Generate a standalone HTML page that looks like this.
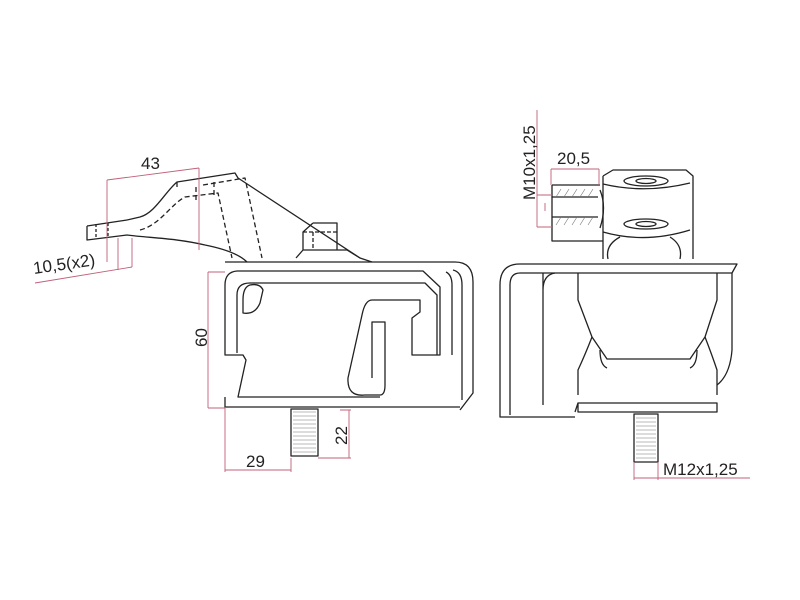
<!DOCTYPE html>
<html><head><style>body{margin:0;background:#fff}svg{display:block}</style></head><body>
<svg width="800" height="600" viewBox="0 0 800 600" xmlns="http://www.w3.org/2000/svg" font-family="Liberation Sans, sans-serif">
<g fill="none" stroke="#222" stroke-width="1.3" stroke-linejoin="round">
<!-- LEFT VIEW bracket -->
<path d="M127,220 L140,217 C155,213 165,192 177,182 L235,173 L238,178 L360,258 L372,262"/>
<path d="M87,226 L127,220 M87,226 L87,240 L127,235 C150,238 175,238 205,245 C225,249 240,255 247,262"/>
<path d="M177,182 L177,187" />
<path d="M96,224 V238 M108,223 V237" stroke-dasharray="3,2"/>
<path d="M140,230 C160,225 170,205 185,197 L218,193 L232,258 M203,185 L245,178 L262,258 M196,187 V200 M214,182 V195" stroke-dasharray="5,3"/>
<!-- nut -->
<path d="M313,223 H337 V250 M303,250 V232 L313,223 M296,258 L303,250 H347 L360,258" />
<path d="M303,232 H337 M313,232 V250" stroke-dasharray="4,2"/>
<!-- body -->
<path d="M225,262 H455 Q473,262 473,282 V393 L460,410"/>
<path d="M237,271 H423 L440,287 V355 H412 V318 L420,312 V300 H372 Q365,300 362,315 L348,378 Q347,397 365,395 H380 Q385,395 385,385 V322 H372 V378"/>
<path d="M237,271 Q225,272 225,285 V355 H243 L246,360 L238,397 H380"/>
<path d="M237,353 V295 Q237,283 250,283 H425 L437,295 V355"/>
<path d="M263,290 Q260,283 250,285 Q243,287 243,300 V313 Q255,315 260,303 Z"/>
<path d="M225,397 V407 H460"/>
<path d="M453,270 Q462,272 462,285 V400 M446,272 Q452,275 452,285 V355"/>
<!-- stud -->
<rect x="291" y="409" width="27" height="47"/>
<!-- RIGHT VIEW head -->
<path d="M603,176 L613,170 H686 L693,176 V259 M603,176 V259"/>
<path d="M552,185 H600 M552,185 V241 H603"/>
<path d="M603,184 Q645,194 690,183 M603,232 Q645,244 690,230"/>
<ellipse cx="646" cy="181" rx="22" ry="5"/><ellipse cx="646" cy="181" rx="10" ry="2.5"/>
<ellipse cx="646" cy="224" rx="22" ry="5"/><ellipse cx="646" cy="224" rx="10" ry="2.5"/>
<path d="M552,197 H598 M552,217 H598 M600,190 Q607,207 600,228"/>
<path d="M608,259 Q605,245 620,237 M680,259 Q683,245 670,237"/>
<!-- right body -->
<path d="M520,264 H737 L732,273 H520 Q510,273 510,285 V415 M520,264 Q500,264 500,285 V417 H575"/>
<path d="M543,273 V405 M555,273 Q543,275 543,290"/>
<path d="M578,273 V300 L592,337 L607,359 H690 L705,337 L717,300 V273"/>
<path d="M592,337 Q585,355 578,370 V395 M705,337 Q712,355 717,370 V395 M600,350 Q600,365 607,368 M697,350 Q697,365 690,368"/>
<path d="M732,273 V350 Q730,375 717,385"/>
<path d="M578,403 H717 V412 H578 Z M575,412 L578,403"/>
<rect x="634" y="414" width="24" height="48"/>
</g>
<g stroke="#777" stroke-width="0.6">
<path d="M293,412 h23 M293,416 h23 M293,420 h23 M293,424 h23 M293,428 h23 M293,432 h23 M293,436 h23 M293,440 h23 M293,444 h23 M293,448 h23 M293,452 h23"/>
<path d="M636,418 h20 M636,422 h20 M636,426 h20 M636,430 h20 M636,434 h20 M636,438 h20 M636,442 h20 M636,446 h20 M636,450 h20 M636,454 h20 M636,458 h20"/>
<path d="M556,197 l5,-8 M564,197 l5,-8 M572,197 l5,-8 M580,197 l5,-8 M588,197 l5,-8 M556,225 l5,-8 M564,225 l5,-8 M572,225 l5,-8 M580,225 l5,-8 M588,225 l5,-8"/>
</g>
<g fill="none" stroke="#c0607a" stroke-width="0.9">
<path d="M107,180 L199,168 M107,180 V262 M199,168 V250"/>
<path d="M35,283 L132,267 M132,267 V238 M118,270 V238"/>
<path d="M208,272 V408 M208,272 H225 M208,408 H225"/>
<path d="M225,408 V472 M225,470 H291 M291,458 V472"/>
<path d="M349,410 V458 M318,458 H351 M340,410 H351"/>
<path d="M537,110 V227 M537,195 H552 M537,227 H552 M545,203 V211 M551,169 H599 M551,169 V185 M599,169 V185"/>
<path d="M634,462 V480 M658,462 V480 M634,478 H750"/>
</g>
<g fill="#222" font-size="17">
<text x="141" y="169">43</text>
<text x="34" y="274" transform="rotate(-8 34 274)">10,5(x2)</text>
<text x="207" y="347" transform="rotate(-90 207 347)">60</text>
<text x="246" y="467">29</text>
<text x="347" y="445" transform="rotate(-90 347 445)">22</text>
<text x="535" y="200" transform="rotate(-90 535 200)">M10x1,25</text>
<text x="557" y="164">20,5</text>
<text x="663" y="475">M12x1,25</text>
</g>
</svg>
</body></html>
